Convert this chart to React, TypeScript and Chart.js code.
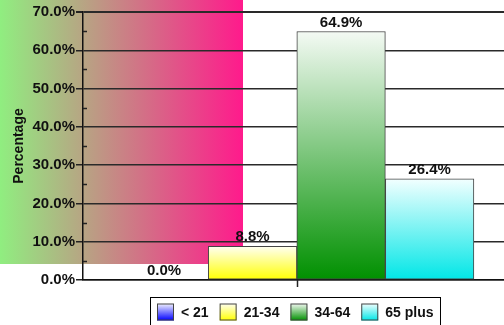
import React, { useEffect, useRef } from "react";
import { Chart, registerables } from "chart.js";

Chart.register(...registerables);

// Age-group shares (percent)
const ageGroups = ["< 21", "21-34", "34-64", "65 plus"];
const shares = [0.0, 8.8, 64.9, 26.4];
const barColors = ["#0000FF", "#FFFF00", "#009000", "#00E6E6"];
const barTopColors = ["#F4F4FF", "#FFFFF2", "#F4FAF4", "#F2FFFF"];
const yMin = 0;
const yMax = 70;
const yStep = 10;
const yTitle = "Percentage";
const xMin = -0.915;
const xMax = 3.84;

const FONT = "'Liberation Sans', Arial, sans-serif";
const TEXT = "#111111";

function barGradient(chart: any, value: number, i: number) {
  const y = chart.scales?.y;
  if (!chart.chartArea || !y) return barColors[i];
  const top = y.getPixelForValue(value);
  const bottom = y.getPixelForValue(0);
  const g = chart.ctx.createLinearGradient(0, top, 0, Math.max(bottom, top + 1));
  g.addColorStop(0, barTopColors[i]);
  g.addColorStop(1, barColors[i]);
  return g;
}

// Green-to-pink backdrop panel behind the grid
const backdrop = {
  id: "backdrop",
  beforeDraw(chart: any) {
    const ctx = chart.ctx;
    ctx.save();
    ctx.fillStyle = "#ffffff";
    ctx.fillRect(0, 0, chart.width, chart.height);
    const w = 243;
    const h = 264;
    const g = ctx.createLinearGradient(0, 0, w, 0);
    g.addColorStop(0, "#90EE80");
    g.addColorStop(0.5, "#C98385");
    g.addColorStop(1, "#FF1A8C");
    ctx.fillStyle = g;
    ctx.fillRect(0, 0, w, h);
    ctx.restore();
  },
};

// Minor y ticks, category divider tick, value labels, framed legend
const extras = {
  id: "extras",
  afterDatasetsDraw(chart: any) {
    const ctx = chart.ctx;
    const y = chart.scales.y;
    const x = chart.scales.x;
    const area = chart.chartArea;
    ctx.save();
    ctx.strokeStyle = "#222";
    ctx.lineWidth = 1.5;
    for (let v = yMin + yStep / 2; v < yMax; v += yStep) {
      const py = Math.round(y.getPixelForValue(v)) + 0.5;
      ctx.beginPath();
      ctx.moveTo(area.left, py);
      ctx.lineTo(area.left + 4, py);
      ctx.stroke();
    }
    const px = Math.round(x.getPixelForValue(1.5)) + 0.5;
    ctx.beginPath();
    ctx.moveTo(px, area.bottom);
    ctx.lineTo(px, area.bottom + 7);
    ctx.stroke();

    ctx.fillStyle = TEXT;
    ctx.font = `bold 15px ${FONT}`;
    ctx.textAlign = "center";
    ctx.textBaseline = "middle";
    chart.data.datasets.forEach((ds: any, i: number) => {
      const el = chart.getDatasetMeta(i).data[0];
      if (!el) return;
      ctx.fillText(`${shares[i].toFixed(1)}%`, el.x, el.y - 9);
    });
    ctx.restore();
  },
  afterDraw(chart: any) {
    const ctx = chart.ctx;
    ctx.save();
    ctx.font = `bold 14px ${FONT}`;
    const left = 150.5;
    const top = 297.5;
    const sw = 17;
    const swTop = 303.5;
    let x = 157;
    const starts: number[] = [];
    ageGroups.forEach((label) => {
      starts.push(x);
      x += sw + 7 + ctx.measureText(label).width + 11;
    });
    const right = x - 11 + 7;
    ctx.strokeStyle = "#000";
    ctx.lineWidth = 1;
    ctx.strokeRect(left, top, right - left, 40);
    ageGroups.forEach((label, i) => {
      const sx = starts[i];
      const g = ctx.createLinearGradient(0, swTop, 0, swTop + sw);
      g.addColorStop(0, barTopColors[i]);
      g.addColorStop(1, barColors[i]);
      ctx.fillStyle = g;
      ctx.fillRect(sx, swTop, sw, sw);
      ctx.strokeStyle = "#444";
      ctx.strokeRect(sx + 0.5, swTop + 0.5, sw - 1, sw - 1);
      ctx.fillStyle = TEXT;
      ctx.textAlign = "left";
      ctx.textBaseline = "middle";
      ctx.fillText(label, sx + sw + 7, swTop + sw / 2 + 1);
    });
    ctx.restore();
  },
};

export default function App() {
  const canvasRef = useRef<HTMLCanvasElement | null>(null);

  useEffect(() => {
    document.body.style.margin = "0";
    const canvas = canvasRef.current;
    if (!canvas) return;
    const chart = new Chart(canvas, {
      type: "bar",
      data: {
        datasets: ageGroups.map((label, i) => ({
          label,
          data: [{ x: i, y: shares[i] }],
          backgroundColor: (c: any) => barGradient(c.chart, shares[i], i),
          borderColor: "#444444",
          borderWidth: 1,
          borderSkipped: false,
          barPercentage: 1,
          categoryPercentage: 1,
          grouped: false,
        })),
      },
      options: {
        responsive: false,
        animation: false,
        devicePixelRatio: 1,
        layout: { padding: { top: 12, right: 0, left: 0, bottom: 0 } },
        plugins: {
          legend: { display: false },
          tooltip: { enabled: false },
          title: { display: false },
        },
        scales: {
          x: {
            type: "linear",
            min: xMin,
            max: xMax,
            offset: false,
            ticks: { display: false },
            afterBuildTicks: (s: any) => {
              s.ticks = [{ value: xMin }, { value: xMax }];
            },
            grid: { display: false },
            border: { display: true, color: "#111", width: 1.5 },
            afterFit: (s: any) => {
              s.height = 45;
            },
          },
          y: {
            min: yMin,
            max: yMax,
            ticks: {
              stepSize: yStep,
              color: TEXT,
              padding: 1,
              font: { family: FONT, size: 15, weight: "bold" },
              callback: (v: any) => `${Number(v).toFixed(1)}%`,
            },
            grid: {
              color: "#2a2a2a",
              lineWidth: (c: any) => (c.tick && c.tick.value === yMax ? 2 : 1.5),
              tickLength: 7,
              tickColor: "#222",
            },
            border: { display: true, color: "#111", width: 1.5 },
            title: {
              display: true,
              text: yTitle,
              color: TEXT,
              font: { family: FONT, size: 14, weight: "bold" },
              padding: { top: 11, bottom: 0 },
            },
            afterFit: (s: any) => {
              s.width = 83;
            },
          },
        },
      },
      plugins: [backdrop, extras],
    } as any);
    return () => chart.destroy();
  }, []);

  return (
    <div style={{ position: "absolute", left: 0, top: 0 }}>
      <canvas ref={canvasRef} width={504} height={325} style={{ display: "block" }} />
    </div>
  );
}
